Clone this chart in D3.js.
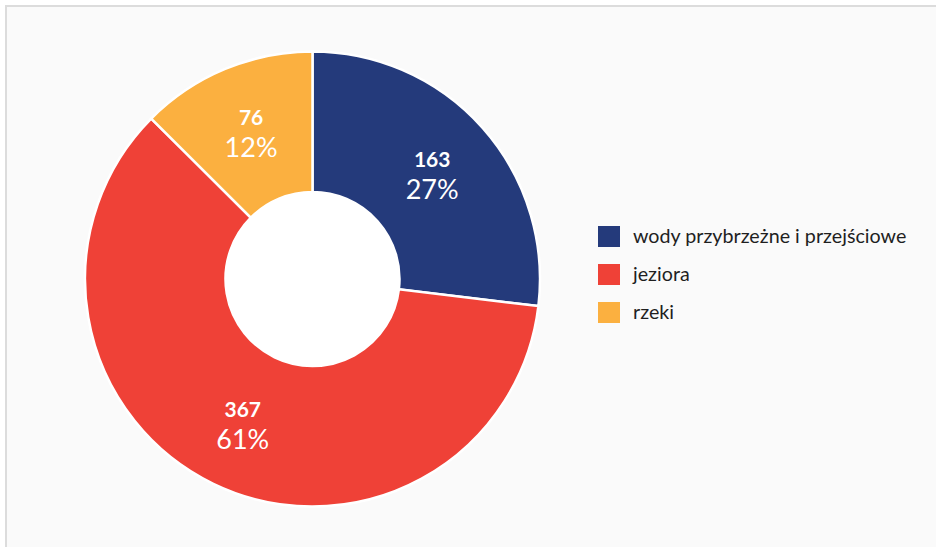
<!DOCTYPE html>
<html><head><meta charset="utf-8">
<script src="https://cdn.jsdelivr.net/npm/d3@7"></script>
<style>
html,body{margin:0;padding:0;background:#fff;}
svg{display:block;}
</style></head>
<body>
<svg id="chart" width="936" height="547"></svg>
<script>
const categories = ["wody przybrzeżne i przejściowe", "jeziora", "rzeki"];
const values = [163, 367, 76];
const percentLabels = ["27%", "61%", "12%"];
const colors = ["#243a7b", "#ef4137", "#fbb040"];

const svg = d3.select("#chart");
const W = 936, H = 547;
svg.append("rect").attr("x", 6).attr("y", 6).attr("width", W).attr("height", H)
  .attr("fill", "#fafafa").attr("stroke", "#dcdcdc").attr("stroke-width", 2);

const cx = 312.5, cy = 279, R = 227.5, r0 = 87;
const data = categories.map((c, i) => ({cat: c, value: values[i], pct: percentLabels[i], color: colors[i]}));
const pie = d3.pie().value(d => d.value).sort(null);
const arc = d3.arc().innerRadius(r0).outerRadius(R);
const labelArc = d3.arc().innerRadius(160).outerRadius(160);
const arcs = pie(data);
const g = svg.append("g").attr("transform", `translate(${cx},${cy})`);
g.selectAll("path").data(arcs).join("path")
  .attr("d", arc).attr("fill", d => d.data.color)
  .attr("stroke", "#ffffff").attr("stroke-width", 2.5);
g.append("circle").attr("r", r0).attr("fill", "#ffffff");

const lab = g.selectAll("g.lab").data(arcs).join("g").attr("class", "lab")
  .attr("transform", d => { const c = labelArc.centroid(d); return `translate(${c[0]},${c[1]})`; });
lab.append("text").attr("text-anchor", "middle").attr("y", -6)
  .attr("font-family", "Lato, 'Noto Sans', sans-serif").attr("font-weight", 700)
  .attr("font-size", 21).attr("fill", "#fff").text(d => d.data.value);
lab.append("text").attr("text-anchor", "middle").attr("y", 26)
  .attr("font-family", "Lato, 'Noto Sans', sans-serif").attr("font-weight", 400)
  .attr("font-size", 27).attr("fill", "#fff").text(d => d.data.pct);

const legend = svg.append("g").attr("transform", "translate(598,226)");
const li = legend.selectAll("g").data(data).join("g")
  .attr("transform", (d, i) => `translate(0,${i * 38})`);
li.append("rect").attr("width", 22).attr("height", 21).attr("fill", d => d.color);
li.append("text").attr("x", 35).attr("y", 17)
  .attr("font-family", "Lato, 'Noto Sans', sans-serif").attr("font-size", 19.7)
  .attr("fill", "#1f1f1f").text(d => d.cat);
</script>
</body></html>
